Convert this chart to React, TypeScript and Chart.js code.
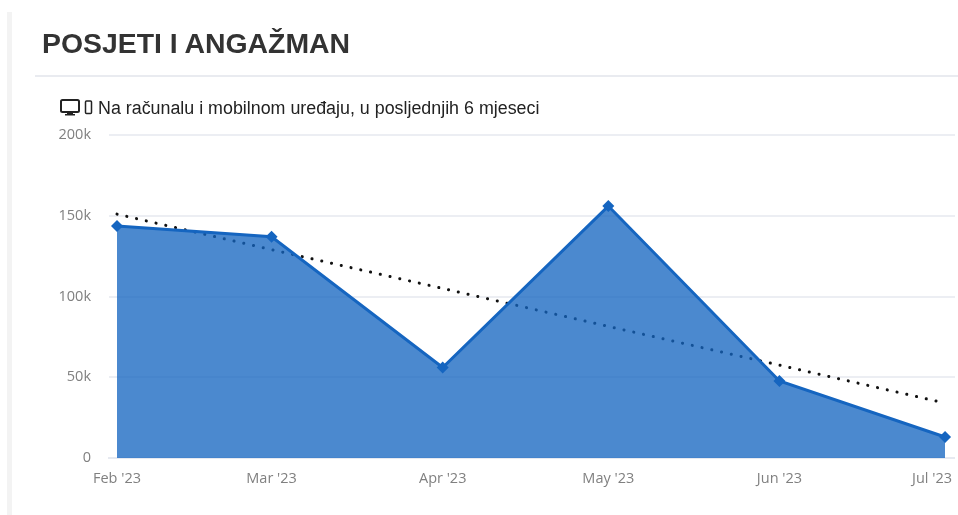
import React, { useEffect, useRef } from "react";
import { Chart, registerables } from "chart.js";

Chart.register(...registerables);

const months = ["Feb '23", "Mar '23", "Apr '23", "May '23", "Jun '23", "Jul '23"];
const dayOffsets = [0, 28, 59, 89, 120, 150];
const visits = [143700, 137000, 56000, 156000, 47700, 13000];
const trend = [151000, 129000, 105000, 81500, 57500, 34000];
const yTicks = [0, 50000, 100000, 150000, 200000];
const titleText = "POSJETI I ANGAŽMAN";
const subtitleText = "Na računalu i mobilnom uređaju, u posljednjih 6 mjeseci";

const shiftLastLabel = {
  id: "shiftLastLabel",
  beforeDraw(chart: any) {
    const scale = chart.scales.x;
    const items = scale.getLabelItems();
    const last = items[items.length - 1];
    if (last) last.options.translation[0] = scale.getPixelForValue(dayOffsets[dayOffsets.length - 1]) - 13;
  },
};

export default function App() {
  const ref = useRef<HTMLCanvasElement>(null);
  useEffect(() => {
    const chart = new Chart(ref.current as HTMLCanvasElement, {
      type: "line",
      data: {
        datasets: [
          {
            data: visits.map((y, i) => ({ x: dayOffsets[i], y })),
            borderColor: "#1565c0",
            backgroundColor: "rgba(21,101,192,0.77)",
            borderWidth: 3,
            fill: "origin",
            tension: 0,
            pointStyle: "rectRot",
            pointRadius: 6,
            pointBackgroundColor: "#1565c0",
            pointBorderColor: "#1565c0",
            pointBorderWidth: 0,
          },
          {
            data: trend.map((y, i) => ({ x: dayOffsets[i], y })),
            borderColor: "#111111",
            borderWidth: 3,
            borderDash: [0.1, 9.9],
            borderCapStyle: "round",
            fill: false,
            tension: 0,
            pointRadius: 0,
          },
        ],
      },
      options: {
        responsive: false,
        animation: false,
        layout: { autoPadding: false, padding: { left: 0, right: 3, top: 135, bottom: 0 } },
        plugins: { legend: { display: false }, tooltip: { enabled: false } },
        scales: {
          x: {
            type: "linear",
            min: -1.45,
            max: 151.8,
            afterBuildTicks: (s: any) => {
              s.ticks = dayOffsets.map((value) => ({ value }));
            },
            afterFit: (s: any) => {
              s.height = 57;
              s.paddingLeft = 0;
              s.paddingRight = 0;
            },
            grid: { drawOnChartArea: false, drawTicks: false, color: "#e6e9f0", lineWidth: 0 },
            border: { display: true, color: "#e6e9f0", width: 2 },
            ticks: {
              autoSkip: false,
              maxRotation: 0,
              padding: 12,
              color: "#808080",
              font: { family: "'Open Sans'", size: 14.5 },
              callback: (v: any) => months[dayOffsets.indexOf(v)],
            },
          },
          y: {
            min: 0,
            max: 200000,
            afterBuildTicks: (s: any) => {
              s.ticks = yTicks.map((value) => ({ value }));
            },
            afterFit: (s: any) => {
              s.width = 109;
            },
            grid: { color: "#eceef3", lineWidth: 2, drawTicks: false },
            border: { display: false },
            ticks: {
              padding: 18,
              color: "#808080",
              font: { family: "'Open Sans'", size: 14.5 },
              callback: (v: any) => (v === 0 ? "0" : v / 1000 + "k"),
            },
          },
        },
      },
      plugins: [shiftLastLabel],
    } as any);
    return () => chart.destroy();
  }, []);

  return (
    <div style={{ position: "absolute", left: 0, top: 0, width: 958, height: 515, overflow: "hidden", background: "#fff" }}>
      <canvas ref={ref} width={958} height={515} style={{ position: "absolute", left: 0, top: 0, display: "block" }} />
      <div style={{ position: "absolute", left: 7, top: 12, width: 5, height: 503, background: "#f3f3f3" }} />
      <div style={{ position: "absolute", left: 42, top: 27, font: "bold 28.4px 'Liberation Sans'", color: "#333", whiteSpace: "nowrap" }}>
        {titleText}
      </div>
      <div style={{ position: "absolute", left: 35, top: 75, width: 923, height: 2, background: "#e9ebf0" }} />
      <svg style={{ position: "absolute", left: 60, top: 99 }} width={36} height={18} viewBox="0 0 36 18">
        <rect x="1" y="1" width="18" height="12" rx="1.5" fill="none" stroke="#222" strokeWidth="2" />
        <rect x="7" y="13" width="6" height="3" fill="#222" />
        <rect x="5" y="15" width="10" height="1.5" fill="#222" />
        <rect x="25.5" y="2" width="6" height="12.5" rx="1" fill="none" stroke="#222" strokeWidth="1.5" />
      </svg>
      <div style={{ position: "absolute", left: 98, top: 98, font: "17.85px 'Liberation Sans'", color: "#222", whiteSpace: "nowrap" }}>
        {subtitleText}
      </div>
    </div>
  );
}
